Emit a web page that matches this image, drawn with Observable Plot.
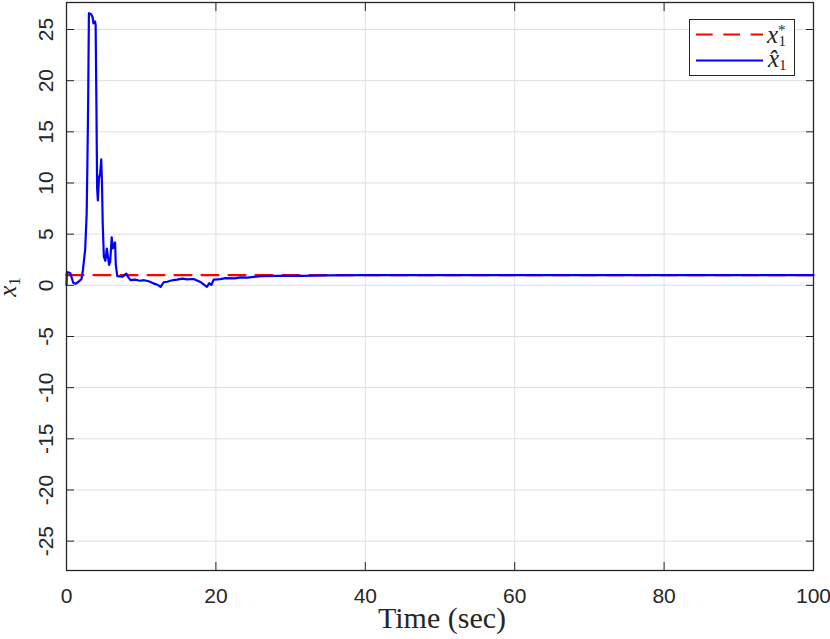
<!DOCTYPE html>
<html><head><meta charset="utf-8">
<script src="https://cdn.jsdelivr.net/npm/d3@7"></script>
<script src="https://cdn.jsdelivr.net/npm/@observablehq/plot@0.6"></script>
<style>body{margin:0;background:#fff} #chart{width:830px;height:639px}</style>
</head><body><div id="chart"></div>
<script>
// ---- data ----
const time = [0,0.05,0.5,0.9,1.2,1.6,2.0,2.2,2.5,2.7,2.8,2.9,3.0,3.3,3.5,3.6,3.8,3.9,4.0,4.1,4.2,4.35,4.5,4.65,4.75,4.85,5.0,5.2,5.4,5.55,5.7,5.85,6.05,6.2,6.35,6.5,6.6,6.8,7.5,8.0,8.3,8.6,9.2,9.8,10.4,11.0,11.7,12.2,12.6,13.0,13.5,13.9,14.3,14.8,15.5,16.2,16.8,17.1,18.0,18.8,19.1,19.4,19.7,20.6,21.3,22.5,23.3,24.2,26,28,31.4,35,40,50,100];
const xHat = [0,1.3,1.2,0.25,0.15,0.35,0.6,1.5,3.5,7,12,18,26.6,26.5,26.2,25.6,25.8,25.5,18,9.5,8.3,10.5,10.9,12.3,10,6,2.8,2.4,3.6,2.8,2.0,2.3,4.7,3.6,4.0,4.2,2.0,0.9,0.85,1.15,0.75,0.5,0.55,0.45,0.5,0.4,0.17,0.05,-0.15,0.3,0.35,0.45,0.5,0.55,0.65,0.58,0.62,0.6,0.3,-0.15,0.2,0.05,0.55,0.6,0.7,0.68,0.78,0.75,0.9,0.93,0.92,0.97,1.0,1.0,1.0];
const refTime = [0, 100];
const xStar = [1, 1];
const xTicks = [0, 20, 40, 60, 80, 100];
const yTicks = [-25, -20, -15, -10, -5, 0, 5, 10, 15, 20, 25];
const xDomain = [0, 100];
const yDomain = [-27.87, 27.64];

const hatData = time.map((t, i) => ({t, v: xHat[i]}));
const starData = refTime.map((t, i) => ({t, v: xStar[i]}));

const ink = "#262626";
const sans = "'Liberation Sans', Arial, Helvetica, sans-serif";
const serif = "'Liberation Serif', 'Times New Roman', serif";

const plot = Plot.plot({
  width: 830, height: 639,
  marginLeft: 66, marginRight: 17, marginTop: 2, marginBottom: 69,
  x: {domain: xDomain},
  y: {domain: yDomain},
  style: {background: "#fff", overflow: "visible"},
  marks: [
    Plot.gridX(xTicks, {stroke: "#dfdfdf", strokeOpacity: 1}),
    Plot.gridY(yTicks, {stroke: "#dfdfdf", strokeOpacity: 1}),
    Plot.line(starData, {x: "t", y: "v", stroke: "#ff0000", strokeWidth: 2.2, strokeDasharray: "17,10"}),
    Plot.line(hatData, {x: "t", y: "v", stroke: "#0000ff", strokeWidth: 2.2, strokeLinejoin: "round"}),
    // inward ticks on all four sides
    Plot.axisX(xTicks, {anchor: "bottom", tickSize: 8, dy: -8, tickFormat: () => "", label: null, stroke: ink}),
    Plot.axisX(xTicks, {anchor: "top", tickSize: 8, dy: 8, tickFormat: () => "", label: null, stroke: ink}),
    Plot.axisY(yTicks, {anchor: "left", tickSize: 8, dx: 8, tickFormat: () => "", label: null, stroke: ink}),
    Plot.axisY(yTicks, {anchor: "right", tickSize: 8, dx: -8, tickFormat: () => "", label: null, stroke: ink}),
    // tick labels
    Plot.text(xTicks, {x: d => d, frameAnchor: "bottom", dy: 32, lineAnchor: "bottom", text: d => String(d),
      fontSize: 21, fontFamily: sans, fill: ink}),
    Plot.text(yTicks, {y: d => d, frameAnchor: "left", dx: -14, rotate: -90, lineAnchor: "bottom", textAnchor: "middle",
      text: d => String(d), fontSize: 21, fontFamily: sans, fill: ink}),
    Plot.frame({stroke: ink, strokeWidth: 1.3})
  ]
});
document.getElementById("chart").appendChild(plot);

const svg = d3.select(plot);
// x-axis title
svg.append("text").attr("x", 442).attr("y", 628).attr("text-anchor", "middle")
  .attr("font-family", serif).attr("font-size", 30).attr("fill", ink).text("Time (sec)");
// y-axis title
const yl = svg.append("text").attr("transform", "translate(16,287) rotate(-90)").attr("text-anchor", "middle")
  .attr("font-family", serif).attr("fill", ink);
yl.append("tspan").attr("font-style", "italic").attr("font-size", 25).text("x");
yl.append("tspan").attr("font-size", 17).attr("dy", 4).text("1");

// legend
const lg = svg.append("g").attr("text-anchor", "start");
lg.append("rect").attr("x", 689.5).attr("y", 19.5).attr("width", 105).attr("height", 56)
  .attr("fill", "#fff").attr("stroke", ink).attr("stroke-width", 1);
lg.append("line").attr("x1", 696).attr("x2", 763).attr("y1", 34.5).attr("y2", 34.5)
  .attr("stroke", "#ff0000").attr("stroke-width", 2).attr("stroke-dasharray", "16.7,10.6");
lg.append("line").attr("x1", 696).attr("x2", 763).attr("y1", 60.5).attr("y2", 60.5)
  .attr("stroke", "#0000ff").attr("stroke-width", 2);
const t1 = lg.append("text").attr("x", 767).attr("y", 43).attr("text-anchor", "start")
  .attr("font-family", serif).attr("fill", ink);
t1.append("tspan").attr("font-style", "italic").attr("font-size", 25).text("x");
t1.append("tspan").attr("font-size", 15).attr("dy", -8).text("*");
t1.append("tspan").attr("font-size", 15).attr("dy", 11).attr("dx", -7).text("1");
const t2 = lg.append("text").attr("x", 768).attr("y", 67).attr("text-anchor", "start")
  .attr("font-family", serif).attr("fill", ink);
t2.append("tspan").attr("font-style", "italic").attr("font-size", 25).text("x\u0302");
t2.append("tspan").attr("font-size", 15).attr("dy", 3).text("1");
</script>
</body></html>
